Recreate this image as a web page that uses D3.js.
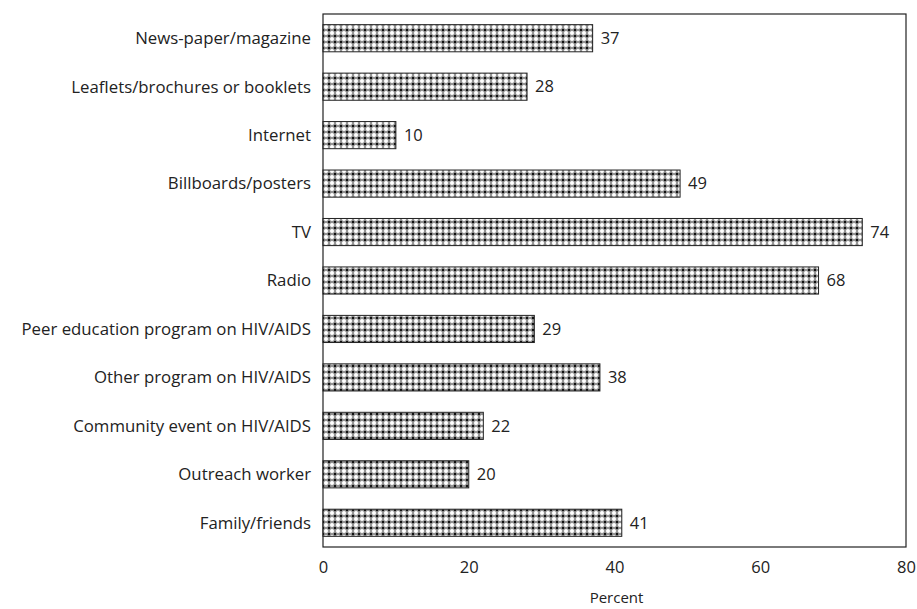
<!DOCTYPE html>
<html><head><meta charset="utf-8">
<script src="https://cdn.jsdelivr.net/npm/d3@7/dist/d3.min.js"></script>
<style>body{margin:0;background:#fff}svg{display:block}</style>
</head><body><svg id="c" width="917" height="609"></svg>
<script>
const categories = ["News-paper/magazine","Leaflets/brochures or booklets","Internet","Billboards/posters","TV","Radio","Peer education program on HIV/AIDS","Other program on HIV/AIDS","Community event on HIV/AIDS","Outreach worker","Family/friends"];
const values = [37,28,10,49,74,68,29,38,22,20,41];
const xTicks = [0,20,40,60,80];
const xTitle = "Percent";

const svg = d3.select("#c");
const m = {l:323, t:14, r:906, b:547};
const font = "'Open Sans', Lato, sans-serif";
const x = d3.scaleLinear().domain([0,80]).range([m.l, m.r]);
const y = d3.scaleBand().domain(categories).range([m.t, m.b]).paddingInner(0.44).paddingOuter(0.22);

const defs = svg.append("defs");
const pat = defs.append("pattern").attr("id","chk").attr("patternUnits","userSpaceOnUse")
  .attr("width",6).attr("height",6).attr("x",m.l).attr("y",0);
pat.append("rect").attr("width",6).attr("height",6).attr("fill","#9a9a9a");
pat.append("circle").attr("cx",3).attr("cy",3).attr("r",2.5).attr("fill","#fff").attr("stroke","#666").attr("stroke-width",0.6);
[[0,0],[6,0],[0,6],[6,6]].forEach(([cx,cy])=>{
  pat.append("rect").attr("x",cx-1.1).attr("y",cy-1.1).attr("width",2.2).attr("height",2.2).attr("fill","#111");
});

svg.append("rect").attr("x",m.l).attr("y",m.t).attr("width",m.r-m.l).attr("height",m.b-m.t)
  .attr("fill","none").attr("stroke","#222").attr("stroke-width",1.2);

svg.selectAll(".bar").data(values).join("rect").attr("class","bar")
  .attr("x",x(0)).attr("y",(d,i)=>y(categories[i]))
  .attr("width",d=>x(d)-x(0)).attr("height",y.bandwidth())
  .attr("fill","url(#chk)").attr("stroke","#222").attr("stroke-width",1);

svg.selectAll(".val").data(values).join("text").attr("class","val")
  .attr("x",d=>x(d)+8).attr("y",(d,i)=>y(categories[i])+y.bandwidth()/2)
  .attr("dy","0.35em").attr("font-family",font).attr("font-size",16.5).attr("fill","#222")
  .text(d=>d);

svg.selectAll(".cat").data(categories).join("text").attr("class","cat")
  .attr("x",m.l-12).attr("y",d=>y(d)+y.bandwidth()/2).attr("dy","0.35em")
  .attr("text-anchor","end").attr("font-family",font).attr("font-size",16.8).attr("fill","#222")
  .text(d=>d);

const xa = svg.append("g").attr("transform",`translate(0,${m.b})`)
  .call(d3.axisBottom(x).tickValues(xTicks).tickSize(0).tickPadding(14).tickFormat(d3.format("d")));
xa.select(".domain").remove();
xa.selectAll("text").attr("font-family",font).attr("font-size",16.5).attr("fill","#222");

svg.append("text").attr("x",(m.l+m.r)/2+2).attr("y",603).attr("text-anchor","middle")
  .attr("font-family",font).attr("font-size",15).attr("fill","#222").text(xTitle);
</script></body></html>
